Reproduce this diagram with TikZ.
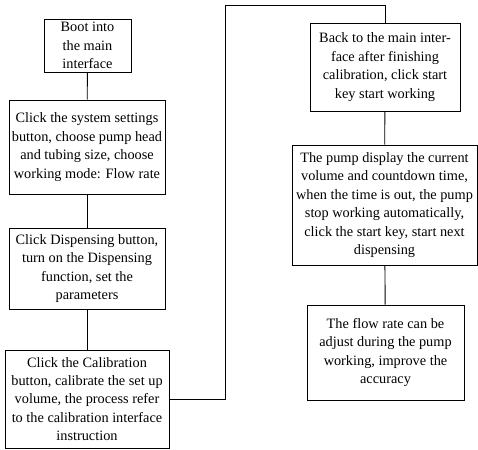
\documentclass[tikz,border=0pt]{standalone}
\usepackage{fontspec}
\setmainfont{Liberation Serif}
\begin{document}
\begin{tikzpicture}[x=1pt,y=-1pt,
  stepbox/.style={draw, line width=0.9pt, align=center, inner sep=0pt,
    font=\fontsize{14.3}{18.4}\selectfont},
  link/.style={line width=0.9pt}]
\useasboundingbox (0,0) rectangle (478,449);
% left column
\node[stepbox, minimum width=87pt, minimum height=53pt] (boot) at (87.5,45.5)
  {Boot into\\the main\\interface};
\node[stepbox, minimum width=156pt, minimum height=94pt] (settings) at (87,147)
  {Click the system settings\\button, choose pump head\\and tubing size, choose\\working mode: Flow rate};
\node[stepbox, minimum width=156pt, minimum height=81pt] (dispense) at (87,268.5)
  {Click Dispensing button,\\turn on the Dispensing\\function, set the\\parameters};
\node[stepbox, minimum width=164pt, minimum height=98pt] (calib) at (87,399)
  {Click the Calibration\\button, calibrate the set up\\volume, the process refer\\to the calibration interface\\instruction};
% right column
\node[stepbox, minimum width=150pt, minimum height=88pt] (back) at (385,67)
  {Back to the main inter-\\face after finishing\\calibration, click start\\key start working};
\node[stepbox, minimum width=185pt, minimum height=120pt] (display) at (384.5,205)
  {The pump display the current\\volume and countdown time,\\when the time is out, the pump\\stop working automatically,\\click the start key, start next\\dispensing};
\node[stepbox, minimum width=157pt, minimum height=95pt] (adjust) at (385.5,352.5)
  {The flow rate can be\\adjust during the pump\\working, improve the\\accuracy};
% connectors
\coordinate (up) at (225,5);
\draw[link] (boot) -- (settings);
\draw[link] (settings) -- (dispense);
\draw[link] (dispense) -- (calib);
\draw[link] (calib.east) -| (up) -| (back.north);
\draw[link] (back) -- (display);
\draw[link] (display) -- (adjust);
\end{tikzpicture}
\end{document}
